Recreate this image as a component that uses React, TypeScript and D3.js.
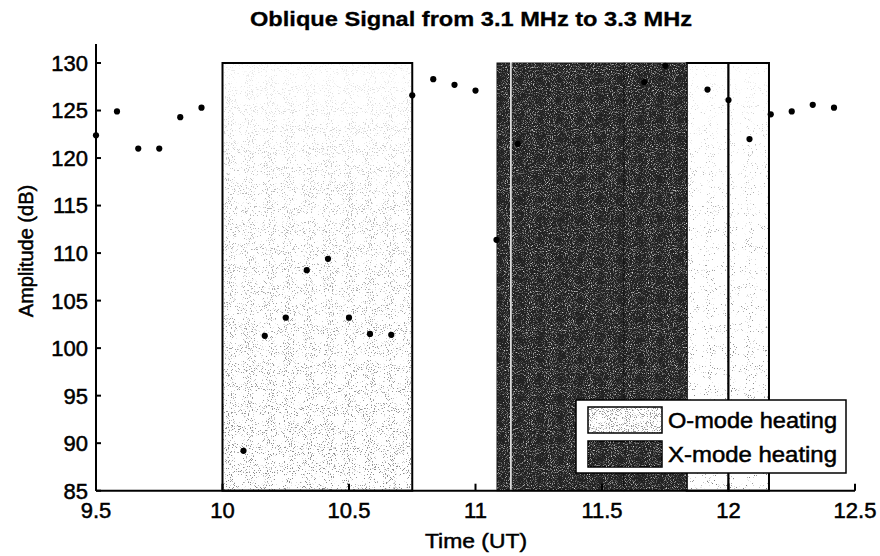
import React from 'react'
import * as d3 from 'd3'

// measured samples (UT hours, dB)
const sampleTimes = [9.5, 9.583, 9.667, 9.75, 9.833, 9.917, 10.083, 10.167, 10.25, 10.333, 10.417, 10.5, 10.583, 10.667, 10.75, 10.833, 10.917, 11.0, 11.083, 11.167, 11.667, 11.75, 11.917, 12.0, 12.083, 12.167, 12.25, 12.333, 12.417]
const sampleAmps = [122.4, 124.9, 121.0, 121.0, 124.3, 125.3, 89.2, 101.3, 103.2, 108.2, 109.4, 103.2, 101.5, 101.4, 126.6, 128.3, 127.7, 127.1, 111.4, 121.5, 128.0, 129.7, 127.2, 126.1, 122.0, 124.6, 124.9, 125.6, 125.3]

// heating periods
const oModeStart = [10.0, 11.835, 12.0]
const oModeEnd = [10.75, 12.0, 12.16]
const xModeStart = [11.085, 11.145, 11.587]
const xModeEnd = [11.135, 11.587, 11.835]
const heatTop = 130
const heatBottom = 85

const xTicks = [9.5, 10, 10.5, 11, 11.5, 12, 12.5]
const yTicks = [85, 90, 95, 100, 105, 110, 115, 120, 125, 130]

const W = 880
const H = 556
const font = 'Liberation Sans, Arial, sans-serif'
const ink = { fill: '#000', stroke: '#000', strokeWidth: 0.5 }

export default function App() {
    const x = d3.scaleLinear().domain([9.5, 12.5]).range([96, 855])
    const y = d3.scaleLinear().domain([85, 130]).range([490.7, 63])
    const yTop = y(132)
    const boxH = y(heatBottom) - y(heatTop)

    return (
        <svg width={W} height={H} style={{ position: 'absolute', left: 0, top: 0, background: '#fff' }} fontFamily={font}>
            <defs>
                <filter id="oNoise" x="0" y="0" width="1" height="1">
                    <feTurbulence type="fractalNoise" baseFrequency="0.95" numOctaves="2" seed="4" result="n" />
                    <feColorMatrix in="n" type="matrix" values="0 0 0 0 0.25  0 0 0 0 0.25  0 0 0 0 0.25  1 0 0 0 0" />
                    <feComponentTransfer>
                        <feFuncA type="linear" slope="12" intercept="-7.4" />
                    </feComponentTransfer>
                </filter>
                <filter id="oNoiseSparse" x="0" y="0" width="1" height="1">
                    <feTurbulence type="fractalNoise" baseFrequency="0.95" numOctaves="2" seed="7" result="n" />
                    <feColorMatrix in="n" type="matrix" values="0 0 0 0 0.2  0 0 0 0 0.2  0 0 0 0 0.2  1 0 0 0 0" />
                    <feComponentTransfer>
                        <feFuncA type="linear" slope="12" intercept="-8.0" />
                    </feComponentTransfer>
                </filter>
                <filter id="oNoiseDense" x="0" y="0" width="1" height="1">
                    <feTurbulence type="fractalNoise" baseFrequency="0.95" numOctaves="2" seed="2" result="n" />
                    <feColorMatrix in="n" type="matrix" values="0 0 0 0 0.3  0 0 0 0 0.3  0 0 0 0 0.3  1 0 0 0 0" />
                    <feComponentTransfer>
                        <feFuncA type="linear" slope="10" intercept="-5.6" />
                    </feComponentTransfer>
                </filter>
                <filter id="xNoise" x="0" y="0" width="1" height="1">
                    <feTurbulence type="fractalNoise" baseFrequency="0.95" numOctaves="2" seed="9" result="n" />
                    <feColorMatrix in="n" type="matrix" values="0 0 0 0 0.75  0 0 0 0 0.75  0 0 0 0 0.75  1 0 0 0 0" />
                    <feComponentTransfer>
                        <feFuncA type="linear" slope="3" intercept="-1.55" />
                    </feComponentTransfer>
                </filter>
                <linearGradient id="fadeGrad" x1="0" y1="0" x2="0" y2="1">
                    <stop offset="0" stopColor="#fff" stopOpacity="0.15" />
                    <stop offset="0.3" stopColor="#fff" stopOpacity="0.6" />
                    <stop offset="0.7" stopColor="#fff" stopOpacity="0.85" />
                    <stop offset="1" stopColor="#fff" stopOpacity="1" />
                </linearGradient>
                <mask id="fadeMask" maskContentUnits="objectBoundingBox">
                    <rect x="0" y="0" width="1" height="1" fill="url(#fadeGrad)" />
                </mask>
            </defs>

            {/* O-mode heating */}
            {oModeStart.map((s, i) => (
                <g key={'o' + i}>
                    <rect x={x(s)} y={y(heatTop)} width={x(oModeEnd[i]) - x(s)} height={boxH} fill="#fff" />
                    <rect x={x(s)} y={y(heatTop)} width={x(oModeEnd[i]) - x(s)} height={boxH} fill="#000"
                        filter={i === 0 ? 'url(#oNoise)' : 'url(#oNoiseSparse)'} mask="url(#fadeMask)" />
                    <rect x={x(s)} y={y(heatTop)} width={x(oModeEnd[i]) - x(s)} height={boxH} fill="none" stroke="#000" strokeWidth={2} />
                </g>
            ))}

            {/* X-mode heating */}
            {xModeStart.map((s, i) => (
                <g key={'x' + i}>
                    <rect x={x(s)} y={y(heatTop)} width={x(xModeEnd[i]) - x(s)} height={boxH} fill="#222" stroke="#111" strokeWidth={1} />
                    <rect x={x(s)} y={y(heatTop)} width={x(xModeEnd[i]) - x(s)} height={boxH} fill="#000" filter="url(#xNoise)" />
                </g>
            ))}

            {/* axes */}
            <line x1={x(9.5)} x2={x(9.5)} y1={y(85)} y2={yTop} stroke="#000" strokeWidth={2} />
            <line x1={x(9.5)} x2={x(12.5)} y1={y(85)} y2={y(85)} stroke="#000" strokeWidth={2} />
            {yTicks.map(t => (
                <g key={'yt' + t}>
                    <line x1={x(9.5)} x2={x(9.5) + 5} y1={y(t)} y2={y(t)} stroke="#000" strokeWidth={2} />
                    <text x={x(9.5) - 8} y={y(t)} dy="0.36em" textAnchor="end" fontSize={22} {...ink}>{t}</text>
                </g>
            ))}
            {xTicks.map(t => (
                <g key={'xt' + t}>
                    <line x1={x(t)} x2={x(t)} y1={y(85)} y2={y(85) - 7} stroke="#000" strokeWidth={2} />
                    <text x={x(t)} y={518} textAnchor="middle" fontSize={22} {...ink}>{t}</text>
                </g>
            ))}

            {/* samples */}
            {sampleTimes.map((t, i) => (
                <circle key={'p' + i} cx={x(t)} cy={y(sampleAmps[i])} r={3.1} fill="#000" />
            ))}

            {/* labels */}
            <text x={250} y={26} fontSize={20.5} fontWeight="bold" textLength={442} lengthAdjust="spacingAndGlyphs" stroke="#000" strokeWidth={0.3}>Oblique Signal from 3.1 MHz to 3.3 MHz</text>
            <text x={425} y={548} fontSize={21} textLength={102} lengthAdjust="spacingAndGlyphs" {...ink}>Time (UT)</text>
            <text transform="translate(33,251) rotate(-90)" textAnchor="middle" fontSize={20} {...ink}>Amplitude (dB)</text>

            {/* legend */}
            <rect x={576} y={400} width={270} height={73} fill="#fff" stroke="#000" strokeWidth={1.5} />
            <rect x={588} y={407} width={74} height={26} fill="#fff" />
            <rect x={588} y={407} width={74} height={26} fill="#000" filter="url(#oNoiseDense)" />
            <rect x={588} y={407} width={74} height={26} fill="none" stroke="#000" strokeWidth={1.5} />
            <rect x={588} y={441} width={74} height={26} fill="#222" stroke="#000" strokeWidth={1.5} />
            <rect x={588} y={441} width={74} height={26} fill="#000" filter="url(#xNoise)" />
            <text x={668} y={428} fontSize={22} textLength={169} lengthAdjust="spacingAndGlyphs" {...ink}>O-mode heating</text>
            <text x={668} y={462} fontSize={22} textLength={169} lengthAdjust="spacingAndGlyphs" {...ink}>X-mode heating</text>
        </svg>
    )
}
